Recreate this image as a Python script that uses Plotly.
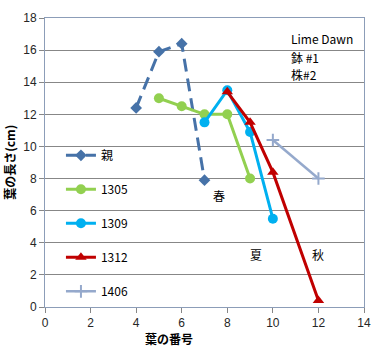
import plotly.graph_objects as go

# Leaf lengths (cm) by leaf number for each plant
oya_x = [4, 5, 6, 7]
oya_y = [12.4, 15.9, 16.4, 7.9]

s1305_x = [5, 6, 7, 8, 9]
s1305_y = [13.0, 12.5, 12.0, 12.0, 8.0]

s1309_x = [7, 8, 9, 10]
s1309_y = [11.5, 13.5, 10.9, 5.5]

s1312_x = [8, 9, 10, 12]
s1312_y = [13.4, 11.5, 8.4, 0.4]

s1406_x = [10, 12]
s1406_y = [10.4, 8.0]

x_ticks = [0, 2, 4, 6, 8, 10, 12, 14]
y_ticks = [0, 2, 4, 6, 8, 10, 12, 14, 16, 18]

JP = "Noto Sans CJK JP"
TICK_FONT = dict(family="Liberation Sans, Arial", size=12, color="#262626")

fig = go.Figure()

series = [
    ("親", oya_x, oya_y, "#4672A8", "diamond", 9, "13px,7px", 3),
    ("1305", s1305_x, s1305_y, "#92D050", "circle", 10, "solid", 3),
    ("1309", s1309_x, s1309_y, "#00B0F0", "circle", 10, "solid", 3),
    ("1312", s1312_x, s1312_y, "#C00000", "triangle-up", 10, "solid", 3),
    ("1406", s1406_x, s1406_y, "#95A9CC", "cross-thin", 9, "solid", 2.5),
]

for i, (name, xs, ys, color, symbol, size, dash, width) in enumerate(series):
    fig.add_trace(go.Scatter(
        x=xs, y=ys, name=name, mode="lines+markers",
        legendgroup=f"g{i}",
        line=dict(color=color, width=width, dash=dash),
        marker=dict(symbol=symbol, size=size, color=color,
                    line=dict(color=color, width=2 if symbol == "cross-thin" else 0)),
    ))

annotations = [
    dict(x=10.73, y=16.72, text="Lime Dawn", xanchor="left"),
    dict(x=10.73, y=15.57, text="鉢 #1", xanchor="left"),
    dict(x=10.73, y=14.48, text="株#2", xanchor="left"),
    dict(x=7.63, y=6.93, text="春", xanchor="center"),
    dict(x=9.25, y=3.28, text="夏", xanchor="center"),
    dict(x=12.0, y=3.28, text="秋", xanchor="center"),
]
for a in annotations:
    fig.add_annotation(xref="x", yref="y", showarrow=False, yanchor="middle",
                       font=dict(family=JP, size=12, color="#000000"), **a)

# Axis titles
fig.add_annotation(xref="paper", yref="paper", x=0.39, y=-0.108, showarrow=False,
                   text="<b>葉の番号</b>", yanchor="middle",
                   font=dict(family=JP, size=12, color="#000000"))
fig.add_annotation(xref="paper", yref="paper", x=-0.112, y=0.5, showarrow=False,
                   text="<b>葉の長さ(cm)</b>", textangle=-90, xanchor="center",
                   font=dict(family=JP, size=12, color="#000000"))

fig.update_layout(
    width=382, height=349,
    margin=dict(l=45, r=16, t=11, b=42),
    paper_bgcolor="white", plot_bgcolor="white",
    showlegend=True,
    legend=dict(x=0.05, y=0.575, xanchor="left", yanchor="top",
                bgcolor="rgba(0,0,0,0)", tracegroupgap=15,
                font=dict(family=JP, size=12, color="#000000")),
    xaxis=dict(range=[0, 14], tickvals=x_ticks, ticks="outside", ticklen=5,
               tickcolor="#878787", showgrid=False, zeroline=False,
               showline=True, linecolor="#8C9DB8", mirror=True,
               tickfont=TICK_FONT),
    yaxis=dict(range=[0, 18], tickvals=y_ticks, ticks="outside", ticklen=5,
               tickcolor="#878787", showgrid=True, gridcolor="#878787",
               gridwidth=1, zeroline=False,
               showline=True, linecolor="#8C9DB8", mirror=True,
               tickfont=TICK_FONT),
)

fig.write_html("out.html")
